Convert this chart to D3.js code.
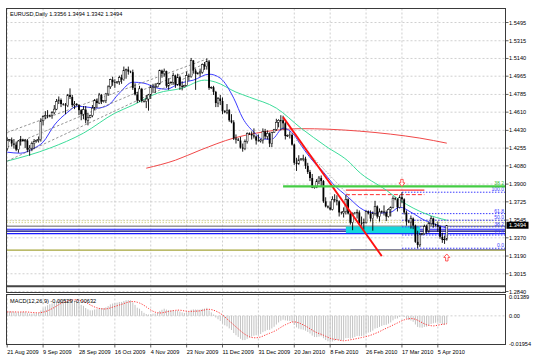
<!DOCTYPE html>
<html><head><meta charset="utf-8">
<script src="https://cdn.jsdelivr.net/npm/d3@7/dist/d3.min.js"></script>
<style>html,body{margin:0;padding:0;background:#fff;}svg{display:block;}text{font-family:"Liberation Sans","DejaVu Sans",sans-serif;}</style>
</head><body>
<svg id="chart" width="540" height="356"></svg>
<script>
// ================= DATA =================
const symbolTitle = "EURUSD,Daily  1.3356 1.3494 1.3342 1.3494";
const macdTitle = "MACD(12,26,9) -0.00529 -0.00632";
const dateLabels = ["21 Aug 2009","9 Sep 2009","28 Sep 2009","16 Oct 2009","4 Nov 2009","23 Nov 2009","11 Dec 2009","31 Dec 2009","20 Jan 2010","8 Feb 2010","26 Feb 2010","17 Mar 2010","5 Apr 2010"];
const dateLabelBars = [0,16,32,48,64,80,96,112,128,144,160,176,192];
const priceTicks = ["1.5495","1.5315","1.5140","1.4965","1.4785","1.4610","1.4430","1.4255","1.4080","1.3900","1.3725","1.3545","1.3370","1.3190","1.3015","1.2840"];
const macdTicks = ["0.01389","0.00","-0.01954"];
const lastPrice = 1.3494;

const opens = [1.4250,1.4330,1.4338,1.4300,1.4290,1.4240,1.4325,1.4340,1.4325,1.4330,1.4240,1.4255,1.4300,1.4320,1.4330,1.4340,1.4525,1.4565,1.4575,1.4570,
1.4580,1.4605,1.4640,1.4715,1.4730,1.4690,1.4685,1.4675,1.4780,1.4760,1.4680,1.4690,1.4680,1.4630,1.4590,1.4635,1.4530,1.4560,1.4575,1.4650,
1.4725,1.4700,1.4780,1.4715,1.4725,1.4790,1.4860,1.4930,1.4905,1.4900,1.4910,1.4950,1.4930,1.5020,1.5030,1.5010,1.5005,1.4850,1.4785,1.4725,
1.4840,1.4720,1.4715,1.4740,1.4780,1.4860,1.4855,1.4860,1.4890,1.5020,1.4990,1.5015,1.4870,1.4900,1.4905,1.4970,1.4880,1.4955,1.4870,1.4860,
1.4875,1.4970,1.4960,1.5120,1.5020,1.4990,1.4995,1.5005,1.5080,1.5060,1.5110,1.4850,1.4855,1.4810,1.4700,1.4745,1.4720,1.4620,1.4610,1.4630,
1.4530,1.4510,1.4350,1.4340,1.4330,1.4260,1.4250,1.4320,1.4400,1.4395,1.4380,1.4370,1.4330,1.4325,1.4335,1.4420,1.4370,1.4400,1.4300,1.4410,
1.4440,1.4510,1.4530,1.4530,1.4500,1.4375,1.4380,1.4385,1.4290,1.4110,1.4100,1.4140,1.4150,1.4150,1.4080,1.4020,1.3960,1.3865,1.3870,1.3930,
1.3960,1.3930,1.3730,1.3680,1.3670,1.3650,1.3750,1.3740,1.3730,1.3620,1.3615,1.3630,1.3750,1.3610,1.3520,1.3610,1.3615,1.3620,1.3515,1.3510,
1.3520,1.3630,1.3610,1.3560,1.3610,1.3680,1.3580,1.3625,1.3630,1.3620,1.3580,1.3650,1.3670,1.3760,1.3750,1.3670,1.3770,1.3750,1.3620,1.3530,
1.3525,1.3560,1.3490,1.3330,1.3300,1.3400,1.3410,1.3480,1.3440,1.3510,1.3560,1.3500,1.3495,1.3480,1.3380,1.3350,1.3356];
const highs = [1.4360,1.4345,1.4360,1.4345,1.4320,1.4335,1.4375,1.4348,1.4345,1.4345,1.4285,1.4320,1.4345,1.4340,1.4370,1.4550,1.4580,1.4620,1.4630,1.4585,
1.4620,1.4680,1.4740,1.4765,1.4745,1.4700,1.4700,1.4790,1.4845,1.4780,1.4720,1.4700,1.4690,1.4640,1.4670,1.4670,1.4600,1.4585,1.4680,1.4740,
1.4745,1.4800,1.4790,1.4730,1.4800,1.4875,1.4940,1.4960,1.4935,1.4915,1.4970,1.4980,1.5060,1.5040,1.5060,1.5020,1.5030,1.4895,1.4810,1.4870,
1.4850,1.4735,1.4780,1.4790,1.4880,1.4890,1.4895,1.4900,1.5030,1.5030,1.5040,1.5020,1.4945,1.4915,1.5000,1.4980,1.4990,1.4970,1.4915,1.4880,
1.5010,1.4990,1.5145,1.5125,1.5040,1.5005,1.5040,1.5090,1.5105,1.5140,1.5125,1.4865,1.4870,1.4820,1.4760,1.4780,1.4755,1.4630,1.4690,1.4640,
1.4590,1.4530,1.4390,1.4355,1.4365,1.4300,1.4340,1.4410,1.4410,1.4420,1.4450,1.4380,1.4390,1.4345,1.4450,1.4445,1.4430,1.4410,1.4415,1.4445,
1.4545,1.4540,1.4580,1.4575,1.4515,1.4390,1.4420,1.4400,1.4300,1.4160,1.4185,1.4155,1.4190,1.4170,1.4110,1.4040,1.4000,1.3880,1.3950,1.3980,
1.3985,1.3940,1.3770,1.3690,1.3730,1.3780,1.3800,1.3790,1.3740,1.3630,1.3670,1.3790,1.3760,1.3620,1.3620,1.3625,1.3650,1.3640,1.3580,1.3560,
1.3640,1.3640,1.3640,1.3630,1.3735,1.3690,1.3660,1.3640,1.3690,1.3640,1.3660,1.3680,1.3780,1.3770,1.3760,1.3790,1.3820,1.3760,1.3640,1.3545,
1.3590,1.3570,1.3500,1.3440,1.3420,1.3420,1.3500,1.3500,1.3530,1.3585,1.3570,1.3510,1.3530,1.3490,1.3420,1.3390,1.3494];
const lows = [1.4230,1.4320,1.4270,1.4250,1.4225,1.4210,1.4280,1.4318,1.4255,1.4215,1.4180,1.4225,1.4245,1.4310,1.4310,1.4320,1.4480,1.4540,1.4550,1.4560,
1.4545,1.4590,1.4630,1.4690,1.4660,1.4675,1.4590,1.4660,1.4740,1.4660,1.4640,1.4670,1.4580,1.4530,1.4540,1.4500,1.4480,1.4550,1.4560,1.4630,
1.4650,1.4690,1.4690,1.4705,1.4700,1.4770,1.4840,1.4870,1.4850,1.4890,1.4880,1.4890,1.4920,1.4940,1.4980,1.4995,1.4830,1.4775,1.4700,1.4710,
1.4705,1.4705,1.4650,1.4625,1.4740,1.4800,1.4800,1.4855,1.4880,1.4950,1.4960,1.4850,1.4830,1.4890,1.4880,1.4850,1.4870,1.4830,1.4825,1.4855,
1.4870,1.4920,1.4950,1.4990,1.4830,1.4980,1.4960,1.4990,1.5030,1.5030,1.4830,1.4840,1.4780,1.4660,1.4660,1.4680,1.4590,1.4600,1.4590,1.4515,
1.4500,1.4335,1.4300,1.4325,1.4250,1.4220,1.4235,1.4300,1.4385,1.4340,1.4350,1.4290,1.4320,1.4310,1.4300,1.4345,1.4340,1.4265,1.4265,1.4405,
1.4425,1.4460,1.4430,1.4440,1.4340,1.4365,1.4350,1.4280,1.4090,1.4030,1.4090,1.4130,1.4125,1.4050,1.4000,1.3930,1.3860,1.3855,1.3860,1.3900,
1.3880,1.3715,1.3670,1.3660,1.3640,1.3640,1.3720,1.3690,1.3580,1.3600,1.3570,1.3600,1.3600,1.3500,1.3445,1.3600,1.3560,1.3510,1.3490,1.3450,
1.3510,1.3600,1.3530,1.3440,1.3590,1.3560,1.3530,1.3610,1.3590,1.3535,1.3570,1.3580,1.3660,1.3740,1.3630,1.3660,1.3710,1.3600,1.3490,1.3515,
1.3460,1.3455,1.3320,1.3267,1.3280,1.3395,1.3400,1.3410,1.3420,1.3490,1.3470,1.3485,1.3430,1.3360,1.3320,1.3310,1.3342];
const closes = [1.4330,1.4338,1.4300,1.4290,1.4240,1.4325,1.4340,1.4325,1.4330,1.4240,1.4255,1.4300,1.4320,1.4330,1.4340,1.4525,1.4565,1.4575,1.4570,1.4580,
1.4605,1.4640,1.4715,1.4730,1.4690,1.4685,1.4675,1.4780,1.4760,1.4680,1.4690,1.4680,1.4630,1.4590,1.4635,1.4530,1.4560,1.4575,1.4650,1.4725,
1.4700,1.4780,1.4715,1.4725,1.4790,1.4860,1.4930,1.4905,1.4900,1.4910,1.4950,1.4930,1.5020,1.5030,1.5010,1.5005,1.4850,1.4785,1.4725,1.4840,
1.4720,1.4715,1.4740,1.4780,1.4860,1.4855,1.4860,1.4890,1.5020,1.4990,1.5015,1.4870,1.4900,1.4905,1.4970,1.4880,1.4955,1.4870,1.4860,1.4875,
1.4970,1.4960,1.5120,1.5020,1.4990,1.4995,1.5005,1.5080,1.5060,1.5110,1.4850,1.4855,1.4810,1.4700,1.4745,1.4720,1.4620,1.4610,1.4630,1.4530,
1.4510,1.4350,1.4340,1.4330,1.4260,1.4250,1.4320,1.4400,1.4395,1.4380,1.4370,1.4330,1.4325,1.4335,1.4420,1.4370,1.4400,1.4300,1.4410,1.4440,
1.4510,1.4530,1.4530,1.4500,1.4375,1.4380,1.4385,1.4290,1.4110,1.4100,1.4140,1.4150,1.4150,1.4080,1.4020,1.3960,1.3865,1.3870,1.3930,1.3960,
1.3930,1.3730,1.3680,1.3670,1.3650,1.3750,1.3740,1.3730,1.3620,1.3615,1.3630,1.3750,1.3610,1.3520,1.3610,1.3615,1.3620,1.3515,1.3510,1.3520,
1.3630,1.3610,1.3560,1.3610,1.3680,1.3580,1.3625,1.3630,1.3620,1.3580,1.3650,1.3670,1.3760,1.3750,1.3670,1.3770,1.3750,1.3620,1.3530,1.3525,
1.3560,1.3490,1.3330,1.3300,1.3400,1.3410,1.3480,1.3440,1.3510,1.3560,1.3500,1.3495,1.3480,1.3380,1.3350,1.3356,1.3494];

// moving averages (bar index, price)
const blueMaBars = [0,6,12,16,21,27,31,36,40,45,50,56,61,67,71,77,83,90,95,101,105,110,114,118,123,128,131,136,141,145,152,159,165,171,175,180,186,192,196];
const blueMaVals = [1.4215,1.4205,1.4255,1.4314,1.4482,1.4610,1.4669,1.4659,1.4650,1.4679,1.4798,1.4906,1.4896,1.4847,1.4837,1.4896,1.4926,1.4985,1.4946,1.4748,1.4551,1.4413,1.4344,1.4344,1.4452,1.4383,1.4284,1.4136,1.4018,1.3909,1.3771,1.3643,1.3613,1.3623,1.3673,1.3623,1.3544,1.3495,1.3465];
const greenMaBars = [0,19,34,48,56,67,78,88,93,102,108,120,131,142,153,156,169,175,187,196];
const greenMaVals = [1.4127,1.4255,1.4403,1.4600,1.4679,1.4798,1.4847,1.4926,1.4906,1.4808,1.4758,1.4650,1.4452,1.4275,1.4107,1.4038,1.3840,1.3742,1.3603,1.3544];
const redMaBars = [62,75,86,101,111,120,131,143,157,171,184,196];
const redMaVals = [1.4057,1.4136,1.4235,1.4354,1.4403,1.4432,1.4447,1.4442,1.4423,1.4393,1.4354,1.4304];

// MACD(12,26,9) state before the first visible bar
const macdSeed12 = 1.4262, macdSeed26 = 1.4238;
const macdPrior = [0.0030,0.0029,0.0028,0.0027,0.0026,0.0025,0.0024,0.0024];

// drawn objects (bar index / price)
const channelBars = [0, 89];
const channelUpper = [1.4410, 1.5135];
const channelMiddle = [1.4265, 1.5095];
const channelLower = [1.4127, 1.5045];
const downTrendBars = [123, 167];
const downTrendPrices = [1.4561, 1.3189];
const dotTrendBars = [129, 153];
const dotTrendPrices = [1.4334, 1.3771];
const fullLevels = [1.3539, 1.3520, 1.3485, 1.3455, 1.3436, 1.3411, 1.3248, 1.2893];
const greenFibBar = 123, greenFibLevel = 1.3878, greenFibLabel = "38.2";
const fibStartBar = 176, fibHigh = 1.3820, fibLow = 1.3267;
const fibRatios = [1, 0.618, 0.5, 0.382, 0.236, 0];
const fibLabels = ["100.0","61.8","50.0","38.2","23.6","0.0"];
const zoneBars = [151, 184], zonePrices = [1.3481, 1.3416];
const redBoxBars = [151, 186], redBoxPrices = [1.3840, 1.3796];
const supportBar = 153, supportPrice = 1.3253;
const arrowBars = [176, 196], arrowPrices = [1.3912, 1.3176], arrowDirs = ["down","up"];

// ================= DRAW =================
const svg = d3.select('#chart');
const L = 6.5, R = 505.5, T = 8.5, B = 292.5, MT = 294.5, MB = 344.5;
const nBars = closes.length;
const xS = d3.scaleLinear().domain([0, nBars - 1]).range([7.2, 446.8]);
const yS = d3.scaleLinear().domain([1.2840, 1.5495]).range([291.5, 22.5]);
const mS = d3.scaleLinear().domain([-0.01954, 0.01389]).range([MB, MT + 1]);

svg.append('rect').attr('width', 540).attr('height', 356).attr('fill', '#fff');
const defs = svg.append('defs');
defs.append('clipPath').attr('id', 'cm').append('rect').attr('x', L).attr('y', T).attr('width', R - L).attr('height', B - T);
defs.append('clipPath').attr('id', 'cd').append('rect').attr('x', L).attr('y', MT).attr('width', R - L).attr('height', MB - MT);

const grid = svg.append('g');
const gm = svg.append('g').attr('clip-path', 'url(#cm)');
const gd = svg.append('g').attr('clip-path', 'url(#cd)');

// grid
priceTicks.forEach(t => {
  const y = yS(+t);
  grid.append('line').attr('x1', L).attr('x2', R).attr('y1', y).attr('y2', y)
    .attr('stroke', '#c4c4c4').attr('stroke-width', 0.8).attr('stroke-dasharray', '2,2');
});
dateLabelBars.forEach(b => {
  const x = xS(b);
  [[T, B], [MT, MB]].forEach(([a, c]) => grid.append('line').attr('x1', x).attr('x2', x).attr('y1', a).attr('y2', c)
    .attr('stroke', '#c4c4c4').attr('stroke-width', 0.8).attr('stroke-dasharray', '2,2'));
});
grid.append('line').attr('x1', L).attr('x2', R).attr('y1', mS(0)).attr('y2', mS(0))
  .attr('stroke', '#c4c4c4').attr('stroke-width', 0.8).attr('stroke-dasharray', '2,2');

// full-width horizontal levels
const levelStyle = [
  {c:'#d2d28c', w:0.9, d:'1.5,1.5'}, {c:'#d2d28c', w:0.9, d:'1.5,1.5'}, {c:'#606060', w:1, d:null},
  {c:'#1a1aff', w:1.1, d:null}, {c:'#000080', w:1.2, d:null}, {c:'#1a1aff', w:1.1, d:null},
  {c:'#a5a53a', w:1.2, d:null}, {c:'#454545', w:2, d:null}];
fullLevels.forEach((p, i) => {
  const s = levelStyle[i];
  gm.append('line').attr('x1', L).attr('x2', R).attr('y1', yS(p)).attr('y2', yS(p))
    .attr('stroke', s.c).attr('stroke-width', s.w).attr('stroke-dasharray', s.d);
});
gm.append('line').attr('x1', xS(supportBar)).attr('x2', R).attr('y1', yS(supportPrice)).attr('y2', yS(supportPrice))
  .attr('stroke', '#7a7a9a').attr('stroke-width', 1);

// cyan zone
gm.append('rect').attr('x', xS(zoneBars[0])).attr('width', xS(zoneBars[1]) - xS(zoneBars[0]))
  .attr('y', yS(zonePrices[0])).attr('height', yS(zonePrices[1]) - yS(zonePrices[0])).attr('fill', '#14d8dc');

// fibonacci levels (blue dotted)
fibRatios.forEach((r, i) => {
  const p = fibLow + r * (fibHigh - fibLow);
  const y = yS(p);
  gm.append('line').attr('x1', xS(fibStartBar)).attr('x2', R).attr('y1', y).attr('y2', y)
    .attr('stroke', '#3a3aff').attr('stroke-width', 1).attr('stroke-dasharray', '1.5,1.5');
  gm.append('text').attr('x', 504).attr('y', y - 1).attr('text-anchor', 'end')
    .attr('font-size', 5).attr('fill', '#3a3aff').text(fibLabels[i]);
});

// red bracket lines
gm.append('line').attr('x1', xS(redBoxBars[0])).attr('x2', xS(redBoxBars[1])).attr('y1', yS(redBoxPrices[0])).attr('y2', yS(redBoxPrices[0]))
  .attr('stroke', '#ff3030').attr('stroke-width', 1.2);
gm.append('line').attr('x1', xS(redBoxBars[0])).attr('x2', xS(redBoxBars[1])).attr('y1', yS(redBoxPrices[1])).attr('y2', yS(redBoxPrices[1]))
  .attr('stroke', '#ff3030').attr('stroke-width', 1).attr('stroke-dasharray', '4,2');

// moving averages
const maLine = d3.line().x(d => xS(d[0])).y(d => yS(d[1])).curve(d3.curveMonotoneX);
gm.append('path').attr('d', maLine(redMaBars.map((b, i) => [b, redMaVals[i]]))).attr('fill', 'none').attr('stroke', '#f04848').attr('stroke-width', 1);
gm.append('path').attr('d', maLine(greenMaBars.map((b, i) => [b, greenMaVals[i]]))).attr('fill', 'none').attr('stroke', '#3ddc9a').attr('stroke-width', 1);
gm.append('path').attr('d', maLine(blueMaBars.map((b, i) => [b, blueMaVals[i]]))).attr('fill', 'none').attr('stroke', '#3c3cff').attr('stroke-width', 1);

// dashed channel lines
[channelUpper, channelMiddle, channelLower].forEach(ps => {
  gm.append('line').attr('x1', xS(channelBars[0])).attr('x2', xS(channelBars[1])).attr('y1', yS(ps[0])).attr('y2', yS(ps[1]))
    .attr('stroke', '#7a7a7a').attr('stroke-width', 0.8).attr('stroke-dasharray', '2.5,2');
});
gm.append('line').attr('x1', xS(dotTrendBars[0])).attr('x2', xS(dotTrendBars[1])).attr('y1', yS(dotTrendPrices[0])).attr('y2', yS(dotTrendPrices[1]))
  .attr('stroke', '#909090').attr('stroke-width', 0.8).attr('stroke-dasharray', '1.5,1.5');

// candles
const cg = gm.append('g');
closes.forEach((c, i) => {
  const x = xS(i), o = opens[i];
  cg.append('line').attr('x1', x).attr('x2', x).attr('y1', yS(highs[i])).attr('y2', yS(lows[i]))
    .attr('stroke', '#000').attr('stroke-width', 0.9);
  const yt = yS(Math.max(o, c)), yb = yS(Math.min(o, c));
  const h = Math.max(yb - yt, 0.6);
  if (c >= o) {
    cg.append('rect').attr('x', x - 0.9).attr('width', 1.8).attr('y', yt).attr('height', h)
      .attr('fill', '#fff').attr('stroke', '#000').attr('stroke-width', 0.5);
  } else {
    cg.append('rect').attr('x', x - 0.9).attr('width', 1.8).attr('y', yt).attr('height', h).attr('fill', '#000');
  }
});

// red downtrend line
gm.append('line').attr('x1', xS(downTrendBars[0])).attr('x2', xS(downTrendBars[1]))
  .attr('y1', yS(downTrendPrices[0])).attr('y2', yS(downTrendPrices[1]))
  .attr('stroke', '#ff1010').attr('stroke-width', 1.8);

// green fib level
gm.append('line').attr('x1', xS(greenFibBar)).attr('x2', R).attr('y1', yS(greenFibLevel)).attr('y2', yS(greenFibLevel))
  .attr('stroke', '#44cc44').attr('stroke-width', 2.2);
gm.append('text').attr('x', 504).attr('y', yS(greenFibLevel) - 1.6).attr('text-anchor', 'end')
  .attr('font-size', 5).attr('fill', '#33bb33').text(greenFibLabel);

// arrows
arrowBars.forEach((b, i) => {
  const x = xS(b), y = yS(arrowPrices[i]);
  const s = arrowDirs[i] === 'down' ? 1 : -1;
  const pts = [[-1.2, -3.5], [1.2, -3.5], [1.2, 0], [3, 0], [0, 3.5], [-3, 0], [-1.2, 0]];
  gm.append('path').attr('d', 'M' + pts.map(p => (x + p[0]) + ',' + (y + s * p[1])).join('L') + 'Z')
    .attr('fill', '#fff').attr('stroke', '#ff3030').attr('stroke-width', 0.8);
});

// MACD
let e12 = macdSeed12, e26 = macdSeed26;
const macd = closes.map(c => { e12 += (2 / 13) * (c - e12); e26 += (2 / 27) * (c - e26); return e12 - e26; });
const hist = macdPrior.concat(macd);
const signal = macd.map((v, i) => d3.mean(hist.slice(i, i + 9)));
macd.forEach((v, i) => {
  gd.append('line').attr('x1', xS(i)).attr('x2', xS(i)).attr('y1', mS(0)).attr('y2', mS(v))
    .attr('stroke', '#c2c2c2').attr('stroke-width', 1);
});
gd.append('path').attr('d', d3.line().x((d, i) => xS(i)).y(d => mS(d))(signal))
  .attr('fill', 'none').attr('stroke', '#ff2020').attr('stroke-width', 0.9).attr('stroke-dasharray', '1.2,1.4');

// frames
const frame = svg.append('g').attr('fill', 'none').attr('stroke', '#3a3a3a').attr('stroke-width', 1);
frame.append('rect').attr('x', L).attr('y', T).attr('width', R - L).attr('height', B - T);
frame.append('rect').attr('x', L).attr('y', MT).attr('width', R - L).attr('height', MB - MT);

// right axis labels
const ax = svg.append('g').attr('font-size', 5.6).attr('fill', '#000');
priceTicks.forEach(t => {
  const y = yS(+t);
  svg.append('line').attr('x1', R).attr('x2', R + 3).attr('y1', y).attr('y2', y).attr('stroke', '#3a3a3a').attr('stroke-width', 0.8);
  ax.append('text').attr('x', 509).attr('y', y + 2).text(t);
});
const macdTickY = [MT + 2.5, mS(0), MB - 1];
macdTicks.forEach((t, i) => {
  ax.append('text').attr('x', 509).attr('y', macdTickY[i] + 2).text(t);
});
// last price box
svg.append('rect').attr('x', R + 1).attr('y', yS(lastPrice) - 3.5).attr('width', 22).attr('height', 7).attr('fill', '#000');
svg.append('text').attr('x', 509).attr('y', yS(lastPrice) + 2).attr('font-size', 5.6).attr('fill', '#fff').text(lastPrice.toFixed(4));

// bottom date labels
dateLabelBars.forEach((b, i) => {
  const x = xS(b);
  svg.append('line').attr('x1', x).attr('x2', x).attr('y1', MB).attr('y2', MB + 3).attr('stroke', '#3a3a3a').attr('stroke-width', 0.8);
  ax.append('text').attr('x', x).attr('y', 354).text(dateLabels[i]);
});

// titles
svg.append('text').attr('x', 10).attr('y', 15.5).attr('font-size', 5.6).attr('fill', '#000').text(symbolTitle);
svg.append('text').attr('x', 10).attr('y', 302.5).attr('font-size', 5.6).attr('fill', '#000').text(macdTitle);
</script>
</body></html>
